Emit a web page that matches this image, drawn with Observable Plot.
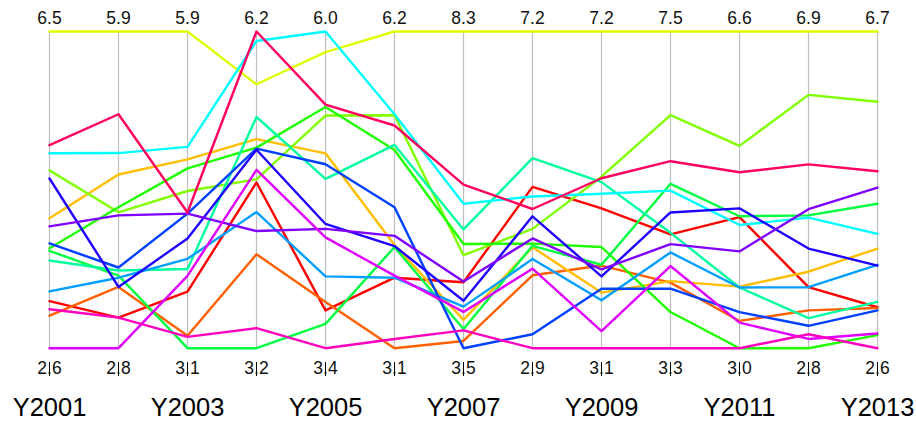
<!DOCTYPE html>
<html>
<head>
<meta charset="utf-8">
<script src="https://cdn.jsdelivr.net/npm/d3@7"></script>
<script src="https://cdn.jsdelivr.net/npm/@observablehq/plot@0.6"></script>
<style>html,body{margin:0;padding:0;background:#fff}</style>
</head>
<body>
<div id="chart"></div>
<script>
const years = ["Y2001","Y2002","Y2003","Y2004","Y2005","Y2006","Y2007","Y2008","Y2009","Y2010","Y2011","Y2012","Y2013"];

const seriesNames = ["S01","S02","S03","S04","S05","S06","S07","S08","S09","S10","S11","S12","S13","S14","S15","S16"];
const seriesColors = ["#FF0000","#FF6000","#FFBF00","#DFFF00","#80FF00","#20FF00","#00FF40","#00FF9F",
                      "#00FFFF","#009FFF","#0040FF","#2000FF","#8000FF","#DF00FF","#FF00BF","#FF0060"];

const s01 = [3.18, 3.10, 3.60, 4.77, 3.71, 3.79, 4.50, 5.09, 4.91, 4.81, 4.49, 3.59, 3.13];
const s02 = [3.00, 3.40, 3.21, 4.09, 3.78, 3.10, 3.61, 3.89, 4.17, 4.17, 3.31, 3.29, 3.12];
const s03 = [4.20, 4.50, 4.77, 5.18, 5.00, 4.11, 3.93, 4.27, 3.82, 4.19, 3.70, 3.79, 3.89];
const s04 = [6.50, 5.90, 5.90, 5.70, 5.83, 6.20, 8.30, 7.20, 7.20, 7.50, 6.60, 6.90, 6.70];
const s05 = [4.79, 4.13, 4.49, 4.80, 5.31, 5.38, 4.91, 4.52, 5.32, 6.39, 5.30, 6.08, 5.79];
const s06 = [3.83, 4.18, 4.69, 5.10, 5.38, 5.04, 5.08, 4.32, 4.41, 3.78, 3.00, 2.80, 2.77];
const s07 = [3.80, 3.51, 3.10, 3.20, 3.60, 4.09, 3.79, 4.29, 4.18, 5.48, 4.50, 4.52, 4.47];
const s08 = [3.68, 3.56, 3.80, 5.39, 4.79, 5.09, 5.30, 5.48, 5.25, 4.83, 3.69, 3.19, 3.20];
const s09 = [5.00, 4.71, 4.88, 6.11, 6.00, 5.39, 5.69, 4.96, 5.10, 5.39, 4.40, 4.49, 4.08];
const s10 = [3.30, 3.49, 3.89, 4.49, 3.99, 3.79, 4.13, 4.11, 3.72, 4.57, 3.69, 3.59, 3.68];
const s11 = [3.89, 3.59, 4.29, 5.09, 4.91, 4.48, 3.50, 3.09, 3.87, 4.09, 3.41, 3.09, 3.09];
const s12 = [4.69, 3.40, 4.07, 5.08, 4.42, 4.10, 4.22, 4.69, 4.03, 5.10, 4.59, 4.09, 3.67];
const s13 = [4.10, 4.10, 4.29, 4.31, 4.38, 4.20, 4.51, 4.39, 4.12, 4.68, 4.10, 4.60, 4.68];
const s14 = [2.60, 2.80, 3.74, 4.89, 4.31, 3.81, 4.05, 3.98, 3.32, 4.39, 3.29, 2.92, 2.79];
const s15 = [3.08, 3.10, 3.20, 3.39, 3.40, 3.19, 3.77, 2.90, 3.10, 3.30, 3.00, 2.98, 2.60];
const s16 = [5.10, 5.09, 4.30, 6.20, 5.40, 5.28, 5.98, 4.79, 5.30, 5.78, 5.00, 5.18, 4.89];

const seriesValues = [s01,s02,s03,s04,s05,s06,s07,s08,s09,s10,s11,s12,s13,s14,s15,s16];

// per-axis min / max (parallel coordinates scaling)
const mins = years.map((_, j) => d3.min(seriesValues, s => s[j]));
const maxs = years.map((_, j) => d3.max(seriesValues, s => s[j]));
const fmt = d3.format(".1f");

const rows = [];
seriesValues.forEach((vals, i) => vals.forEach((v, j) => rows.push({
  series: seriesNames[i], color: seriesColors[i], year: years[j],
  t: (v - mins[j]) / (maxs[j] - mins[j])
})));
const axisRows = years.map((y, j) => ({year: y, top: fmt(maxs[j]), bottom: fmt(mins[j])}));

const chart = Plot.plot({
  width: 916,
  height: 421,
  marginTop: 31,
  marginBottom: 59,
  marginLeft: 48,
  marginRight: 37,
  style: {fontFamily: "'Liberation Sans', Arial, sans-serif", background: "#fff", overflow: "visible"},
  x: {type: "point", domain: years, range: [48, 878.7], padding: 0, label: null},
  y: {domain: [0, 1], range: [347.7, 31], axis: null},
  color: {type: "identity"},
  marks: [
    Plot.ruleX(years, {x: d => d, y1: 0, y2: 1, stroke: "#bebebe", strokeWidth: 1.2}),
    Plot.line(rows, {x: "year", y: "t", z: "series", stroke: "color", strokeWidth: 2.4}),
    Plot.ruleY([0], {x1: years[0], x2: years[years.length - 1], dy: 14.3, stroke: "#000"}),
    Plot.axisX({tickSize: 14, tickPadding: 21, fontSize: 25.5, label: null,
                tickFormat: d => (years.indexOf(d) % 2 === 0 ? d : "")}),
    Plot.text(axisRows, {x: "year", y: 1, text: "top", dy: -13.5, fontSize: 17.5, fill: "#111"}),
    Plot.text(axisRows, {x: "year", y: 0, text: "bottom", dy: 19.8, fontSize: 17.5, fill: "#111"})
  ]
});
document.getElementById("chart").appendChild(chart);
</script>
</body>
</html>
